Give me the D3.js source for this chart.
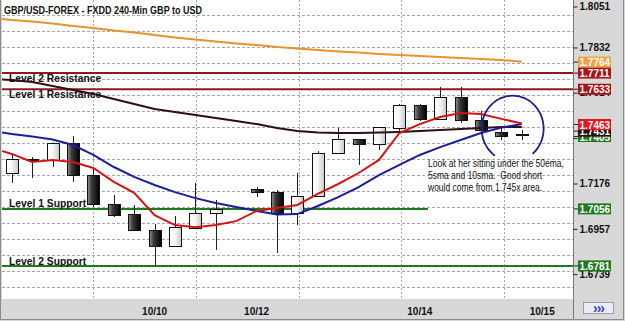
<!DOCTYPE html>
<html>
<head>
<meta charset="utf-8">
<script src="https://cdn.jsdelivr.net/npm/d3@7"></script>
<style>
  body { margin: 0; background: #fff; }
  svg { display: block; font-family: "Liberation Sans", Arial, sans-serif; }
</style>
</head>
<body>
<svg id="chart" width="625" height="321"></svg>
<script>
// candle slots (4h bars), slot 11 has no bar
var candleSlots = [0,1,2,3,4,5,6,7,8,9,10,12,13,14,15,16,17,18,19,20,21,22,23,24,25];
var opens  = [1.7229,1.7294,1.7292,1.7374,1.7219,1.7079,1.7031,1.6954,1.6877,1.6964,1.7036,1.7152,1.7137,1.7036,1.7118,1.7325,1.7393,1.7369,1.7446,1.7557,1.7490,1.7596,1.7487,1.7427,1.7416];
var highs  = [1.7321,1.7306,1.7376,1.7407,1.7258,1.7123,1.7075,1.6983,1.7022,1.7181,1.7099,1.7161,1.7147,1.7229,1.7335,1.7446,1.7393,1.7451,1.7562,1.7562,1.7644,1.7644,1.7530,1.7446,1.7437];
var lows   = [1.7181,1.7205,1.7258,1.7186,1.7065,1.7017,1.6950,1.6778,1.6872,1.6959,1.6858,1.7113,1.6843,1.6978,1.7118,1.7325,1.7268,1.7340,1.7432,1.7480,1.7485,1.7470,1.7427,1.7388,1.7388];
var closes = [1.7297,1.7297,1.7374,1.7219,1.7079,1.7026,1.6954,1.6877,1.6968,1.7036,1.7055,1.7137,1.7036,1.7118,1.7325,1.7393,1.7369,1.7451,1.7557,1.7490,1.7596,1.7485,1.7441,1.7410,1.7414];

// moving averages, slot -1 .. 25
var maSlots = d3.range(-1, 26);
var sma5   = [1.7350,1.7321,1.7282,1.7292,1.7282,1.7253,1.7186,1.7133,1.7026,1.6978,1.6968,1.6978,1.6997,1.7046,1.7060,1.7075,1.7128,1.7176,1.7229,1.7292,1.7422,1.7465,1.7499,1.7518,1.7514,1.7490,1.7468];
var sma10  = [1.7432,1.7417,1.7405,1.7391,1.7364,1.7316,1.7258,1.7210,1.7171,1.7137,1.7108,1.7084,1.7065,1.7046,1.7029,1.7031,1.7070,1.7113,1.7161,1.7219,1.7268,1.7316,1.7354,1.7388,1.7422,1.7448,1.7465];
var ema50  = [1.7682,1.7678,1.7668,1.7649,1.7629,1.7610,1.7586,1.7562,1.7538,1.7523,1.7509,1.7494,1.7480,1.7465,1.7446,1.7432,1.7424,1.7422,1.7422,1.7424,1.7427,1.7432,1.7436,1.7441,1.7446,1.7451,1.7451];
var sma200 = [1.7977,1.7967,1.7960,1.7950,1.7938,1.7928,1.7916,1.7907,1.7895,1.7883,1.7873,1.7863,1.7854,1.7846,1.7837,1.7830,1.7822,1.7815,1.7810,1.7803,1.7798,1.7793,1.7789,1.7784,1.7779,1.7774,1.7766];

// axis
var dateLabels = ["10/10", "10/12", "10/14", "10/15"];
var dateSlots = [7, 12, 20, 26];
var gridSlots = [4, 9.03, 14.06, 19.09, 24.12];
var priceTicks = [1.8051, 1.7832, 1.7614, 1.7395, 1.7176, 1.6957, 1.6739];

// support / resistance
var levelNames = ["Level 2 Resistance", "Level 1 Resistance", "Level 1 Support", "Level 2 Support"];
var levelValues = [1.7711, 1.7633, 1.7056, 1.6781];

// value boxes on the price axis (drawn in this order)
var tagValues = [1.7764, 1.7711, 1.7633, 1.7405, 1.7431, 1.7463, 1.7056, 1.6781];
var tagColors = ["#f2a23c", "#a8141a", "#a8141a", "#1f7a1f", "#2a0c0c", "#e3161c", "#1f7a1f", "#1f7a1f"];

var noteLines = ["Look at her sitting under the 50ema,", "5sma and 10sma.  Good short", "would come from 1.745x area."];

var plot = {left: 2, right: 573, top: 0, bottom: 299};

var svg = d3.select("#chart");

var x = d3.scaleLinear().domain([0, 25]).range([11.8, 521.8]);
var y = d3.scaleLinear().domain([1.7832, 1.7176]).range([48, 184]);

// background panels
svg.append("rect").attr("x", 0).attr("y", 0).attr("width", 625).attr("height", 321).attr("fill", "#d8d8d8");
svg.append("rect").attr("x", plot.left).attr("y", plot.top)
  .attr("width", plot.right - plot.left).attr("height", plot.bottom - plot.top).attr("fill", "#fff");

var defs = svg.append("defs");
defs.append("clipPath").attr("id", "clip").append("rect")
  .attr("x", plot.left).attr("y", plot.top)
  .attr("width", plot.right - plot.left).attr("height", plot.bottom - plot.top);

var gUp = defs.append("linearGradient").attr("id", "up");
gUp.append("stop").attr("offset", "0%").attr("stop-color", "#ffffff");
gUp.append("stop").attr("offset", "45%").attr("stop-color", "#f6f6f6");
gUp.append("stop").attr("offset", "100%").attr("stop-color", "#c8c8c8");
var gDown = defs.append("linearGradient").attr("id", "down");
gDown.append("stop").attr("offset", "0%").attr("stop-color", "#909090");
gDown.append("stop").attr("offset", "35%").attr("stop-color", "#3a3a3a");
gDown.append("stop").attr("offset", "100%").attr("stop-color", "#000000");

// grid
var gridTop = 1.7991, gridStep = 0.00772;
var hGrid = d3.range(0, 18).map(function(k) { return gridTop - k * gridStep; });
svg.append("g").selectAll("line").data(hGrid).enter().append("line")
  .attr("x1", plot.left).attr("x2", plot.right)
  .attr("y1", function(d) { return Math.round(y(d)) + 0.5; })
  .attr("y2", function(d) { return Math.round(y(d)) + 0.5; })
  .attr("stroke", "#a8a8a8").attr("stroke-dasharray", "3,2");
svg.append("g").selectAll("line").data(gridSlots).enter().append("line")
  .attr("x1", function(d) { return Math.round(x(d)) + 0.5; })
  .attr("x2", function(d) { return Math.round(x(d)) + 0.5; })
  .attr("y1", plot.top).attr("y2", plot.bottom)
  .attr("stroke", "#a8a8a8").attr("stroke-dasharray", "2,2");

// level lines
var levelColor = ["#8a1a1e", "#8a1a1e", "#1f7a1f", "#1f7a1f"];
var levelEnd = [plot.right, plot.right, 428, plot.right];
svg.append("g").selectAll("line").data(levelValues).enter().append("line")
  .attr("x1", plot.left)
  .attr("x2", function(d, i) { return levelEnd[i]; })
  .attr("y1", function(d) { return y(d); })
  .attr("y2", function(d) { return y(d); })
  .attr("stroke", function(d, i) { return levelColor[i]; })
  .attr("stroke-width", 2);

var levelDy = [9, 9, -2, -1];
svg.append("g").selectAll("text").data(levelNames).enter().append("text")
  .attr("x", 9)
  .attr("y", function(d, i) { return y(levelValues[i]) + levelDy[i]; })
  .attr("font-size", "10.3px").attr("font-weight", "bold").attr("fill", "#111")
  .text(function(d) { return d; });

// candles
var candles = candleSlots.map(function(s, i) {
  return {slot: s, o: opens[i], h: highs[i], l: lows[i], c: closes[i]};
});
var cg = svg.append("g").attr("clip-path", "url(#clip)");
cg.selectAll("line.wick").data(candles).enter().append("line")
  .attr("class", "wick")
  .attr("x1", function(d) { return Math.round(x(d.slot)) + 0.5; })
  .attr("x2", function(d) { return Math.round(x(d.slot)) + 0.5; })
  .attr("y1", function(d) { return y(d.h); })
  .attr("y2", function(d) { return y(d.l); })
  .attr("stroke", "#222");
cg.selectAll("rect.body").data(candles).enter().append("rect")
  .attr("class", "body")
  .attr("x", function(d) { return Math.round(x(d.slot)) - 5.5; })
  .attr("y", function(d) { return Math.round(y(Math.max(d.o, d.c))) + 0.5; })
  .attr("width", 12)
  .attr("height", function(d) { return Math.max(1, Math.round(Math.abs(y(d.o) - y(d.c)))); })
  .attr("fill", function(d) { return d.c >= d.o ? "url(#up)" : "url(#down)"; })
  .attr("stroke", "#111");

// moving averages
function maLine(vals) {
  return d3.line()
    .x(function(d, i) { return x(maSlots[i]); })
    .y(function(d) { return y(d); })(vals);
}
var maVals = [sma200, ema50, sma10, sma5];
var maColors = ["#e8922e", "#2e1010", "#1c1ca0", "#d41414"];
cg.selectAll("path.ma").data(maVals).enter().append("path")
  .attr("class", "ma")
  .attr("d", maLine)
  .attr("fill", "none")
  .attr("stroke", function(d, i) { return maColors[i]; })
  .attr("stroke-width", 2);

// annotation ellipse with a gap at the bottom
var cx = x(24.55), cy = y(1.7443), rx = 31, ry = 33;
var angles = d3.range(125, 415, 5).map(function(a) { return a * Math.PI / 180; });
svg.append("path")
  .attr("d", d3.line().curve(d3.curveCardinal)
    .x(function(a) { return cx + rx * Math.cos(a); })
    .y(function(a) { return cy + ry * Math.sin(a); })(angles))
  .attr("fill", "none").attr("stroke", "#1e1e8c").attr("stroke-width", 1.8);

var note = svg.append("g").attr("transform", "translate(428,0) scale(0.85,1)");
note.selectAll("text").data(noteLines).enter().append("text")
  .attr("x", 0)
  .attr("y", function(d, i) { return 167.5 + i * 11.8; })
  .attr("font-size", "10px").attr("fill", "#111")
  .attr("xml:space", "preserve")
  .style("white-space", "pre")
  .text(function(d) { return d; });

// title
svg.append("text").attr("x", 4).attr("y", 13.5)
  .attr("font-size", "10px").attr("font-weight", "bold").attr("fill", "#111")
  .attr("textLength", 198).attr("lengthAdjust", "spacingAndGlyphs")
  .text("GBP/USD-FOREX - FXDD 240-Min GBP to USD");

// price axis
svg.append("line").attr("x1", plot.right + 0.5).attr("x2", plot.right + 0.5)
  .attr("y1", 0).attr("y2", 320).attr("stroke", "#777");

var yAxis = svg.append("g")
  .attr("transform", "translate(" + (plot.right + 0.5) + ",0)")
  .call(d3.axisRight(y).tickValues(priceTicks).tickSize(4).tickPadding(2).tickFormat(d3.format(".4f")));
yAxis.select(".domain").remove();
yAxis.selectAll(".tick").attr("transform", function(d) { return "translate(0," + Math.max(7, y(d)) + ")"; });
yAxis.selectAll(".tick line").attr("stroke", "#222");
yAxis.selectAll(".tick text").attr("font-size", "10px").attr("font-weight", "bold")
  .attr("fill", "#111").attr("font-family", "Liberation Sans, Arial, sans-serif");

var tags = svg.append("g").selectAll("g").data(tagValues).enter().append("g")
  .attr("transform", function(d) { return "translate(" + (plot.right + 1) + "," + y(d) + ")"; });
tags.append("line").attr("x1", 0).attr("x2", 4).attr("stroke", "#222");
tags.append("rect").attr("x", 4).attr("y", -5.5).attr("width", 33).attr("height", 11)
  .attr("fill", function(d, i) { return tagColors[i]; });
tags.append("text").attr("x", 5.5).attr("y", 4)
  .attr("font-size", "10px").attr("font-weight", "bold").attr("fill", "#fff")
  .text(function(d) { return d3.format(".4f")(d); });

// date axis
svg.append("g").selectAll("text").data(dateLabels).enter().append("text")
  .attr("x", function(d, i) { return x(dateSlots[i]); })
  .attr("y", 315)
  .attr("text-anchor", "middle")
  .attr("font-size", "10px").attr("font-weight", "bold").attr("fill", "#111")
  .text(function(d) { return d; });

// scroll button
svg.append("rect").attr("x", 583.5).attr("y", 302.5).attr("width", 30).attr("height", 11)
  .attr("fill", "#ececf4").attr("stroke", "#9a9aa8");
svg.append("text").attr("x", 598.5).attr("y", 312.5).attr("text-anchor", "middle")
  .attr("font-size", "14px").attr("font-weight", "bold").attr("fill", "#3b3bd0")
  .attr("letter-spacing", "-1px")
  .text("›››");

// frame
svg.append("rect").attr("x", 0.5).attr("y", -1).attr("width", 623).attr("height", 320.5)
  .attr("fill", "none").attr("stroke", "#8a8a8a");
</script>
</body>
</html>
